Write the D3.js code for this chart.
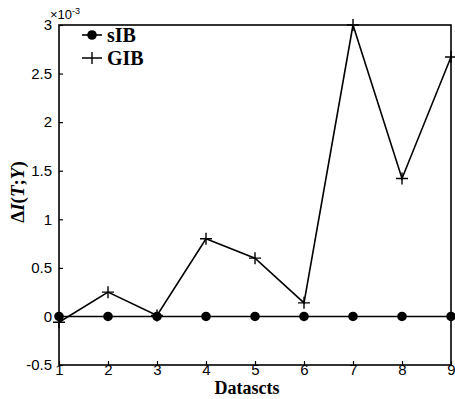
<!DOCTYPE html>
<html><head><meta charset="utf-8">
<script src="https://cdn.jsdelivr.net/npm/d3@7"></script>
<style>body{margin:0;background:#fff}</style>
</head><body>
<script>
const datasets = [1,2,3,4,5,6,7,8,9];
const sIB = [0,0,0,0,0,0,0,0,0];
const GIB = [-0.06,0.25,0.01,0.8,0.6,0.14,3.0,1.42,2.67];
const yTicks = [-0.5,0,0.5,1,1.5,2,2.5,3];
const yTickLabels = ["-0.5","0","0.5","1","1.5","2","2.5","3"];

const W=455,H=399;
const L=59,R=451,T=25,B=365;
const svg=d3.select("body").append("svg").attr("width",W).attr("height",H);
const x=d3.scaleLinear().domain([1,9]).range([L,R]);
const y=d3.scaleLinear().domain([-0.5,3]).range([B,T]);

// axes
const yAxis=d3.axisLeft(y).tickValues(yTicks).tickFormat((d,i)=>yTickLabels[i]).tickSize(-4).tickPadding(7);
const gy=svg.append("g").attr("transform",`translate(${L},0)`).call(yAxis);
const xAxis=d3.axisBottom(x).tickValues(datasets).tickFormat(d3.format("d")).tickSize(-4).tickPadding(2);
const gx=svg.append("g").attr("transform",`translate(0,${B})`).call(xAxis);
[gx,gy].forEach(g=>{
  g.select(".domain").remove();
  g.selectAll("line").attr("stroke","#000").attr("stroke-width",1.2);
  g.selectAll("text").attr("font-family","Liberation Sans, Arial, sans-serif").attr("font-size",15).attr("fill","#000");
});
gx.selectAll("text").attr("dy","0.5em");
// box
svg.append("rect").attr("x",L).attr("y",T).attr("width",R-L).attr("height",B-T)
  .attr("fill","none").attr("stroke","#000").attr("stroke-width",1.6);

// exponent
const ex=svg.append("text").attr("x",50).attr("y",19).attr("font-family","Liberation Sans, Arial, sans-serif").attr("font-size",13);
ex.append("tspan").text("×10");
ex.append("tspan").attr("font-size",9).attr("dy",-5).text("-3");

// lines
const line=d3.line().x((d,i)=>x(datasets[i])).y(d=>y(d));
svg.append("path").datum(sIB).attr("d",line).attr("fill","none").attr("stroke","#000").attr("stroke-width",1.6);
svg.append("path").datum(GIB).attr("d",line).attr("fill","none").attr("stroke","#000").attr("stroke-width",1.6);
svg.selectAll("circle.s").data(sIB).enter().append("circle")
  .attr("cx",(d,i)=>x(datasets[i])).attr("cy",d=>y(d)).attr("r",4.8).attr("fill","#000");
const plus=svg.append("g");
GIB.forEach((d,i)=>{
  const cx=x(datasets[i]),cy=y(d),s=6;
  plus.append("path").attr("d",`M${cx-s},${cy}H${cx+s}M${cx},${cy-s}V${cy+s}`).attr("stroke","#000").attr("stroke-width",1.4);
});

// legend
const lg=svg.append("g");
lg.append("line").attr("x1",82).attr("x2",102).attr("y1",35).attr("y2",35).attr("stroke","#000").attr("stroke-width",1.6);
lg.append("circle").attr("cx",92).attr("cy",35).attr("r",4.8);
lg.append("text").attr("x",107).attr("y",42).text("sIB");
lg.append("path").attr("d","M82,58H102M92,52V64").attr("stroke","#000").attr("stroke-width",1.4);
lg.append("text").attr("x",107).attr("y",65).text("GIB");
lg.selectAll("text").attr("font-family","Liberation Serif, Times New Roman, serif").attr("font-weight","bold").attr("font-size",20);

// x label
svg.append("text").attr("x",(L+R)/2-8).attr("y",394).attr("text-anchor","middle")
  .attr("font-family","Liberation Serif, Times New Roman, serif").attr("font-weight","bold").attr("font-size",18).text("Datascts");
// y label
const yl=svg.append("text").attr("transform","translate(24,192) rotate(-90)").attr("text-anchor","middle")
  .attr("font-family","Liberation Serif, Times New Roman, serif").attr("font-weight","bold").attr("font-size",19);
yl.append("tspan").text("Δ");
yl.append("tspan").attr("font-style","italic").text("I");
yl.append("tspan").text("(");
yl.append("tspan").attr("font-style","italic").text("T");
yl.append("tspan").text(";");
yl.append("tspan").attr("font-style","italic").text("Y");
yl.append("tspan").text(")");
</script>
</body></html>
